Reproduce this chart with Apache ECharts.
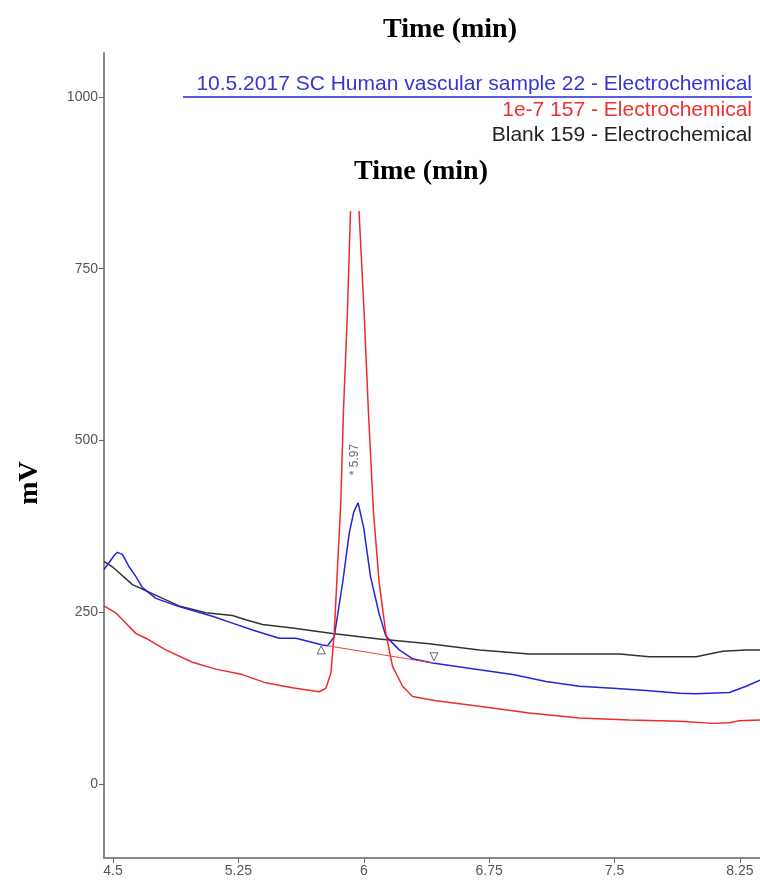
<!DOCTYPE html>
<html lang="en">
<head>
    <meta charset="UTF-8">
    <title>Electrochemical chromatogram</title>
    <style>
        html, body { margin: 0; padding: 0; background: #fff; }
    </style>
</head>
<body>
<div id="main" style="width:760px;height:882px;"></div>
<script src="https://cdn.jsdelivr.net/npm/echarts@6/dist/echarts.min.js"></script>
<script>
    // trace names (legend)
    var seriesNames = [
        '10.5.2017 SC Human vascular sample 22 - Electrochemical',
        '1e-7 157 - Electrochemical',
        'Blank 159 - Electrochemical'
    ];
    var xTicks = [4.5, 5.25, 6, 6.75, 7.5, 8.25];
    var yTicks = [0, 250, 500, 750, 1000];

    // [time (min), mV]
    var sampleTrace = [
        [4.446, 312], [4.506, 332], [4.526, 337], [4.556, 334], [4.596, 316], [4.636, 302],
        [4.675, 286], [4.756, 270], [4.895, 258], [5.094, 244], [5.214, 234], [5.334, 224],
        [5.494, 212], [5.594, 212], [5.753, 202], [5.783, 201], [5.823, 214], [5.873, 292],
        [5.913, 365], [5.940, 396], [5.966, 409], [6.000, 372], [6.040, 302], [6.090, 249],
        [6.132, 215], [6.212, 195], [6.292, 182], [6.412, 176], [6.691, 166], [6.891, 159],
        [7.090, 149], [7.290, 142], [7.490, 139], [7.688, 136], [7.888, 132], [7.988, 131],
        [8.187, 133], [8.287, 142], [8.370, 151]
    ];
    var standardTrace = [
        [4.446, 259], [4.516, 249], [4.576, 234], [4.636, 219], [4.696, 212], [4.815, 195],
        [4.975, 177], [5.115, 167], [5.274, 159], [5.414, 147], [5.573, 140], [5.733, 134],
        [5.773, 139], [5.803, 161], [5.823, 219], [5.843, 316], [5.863, 413], [5.878, 540],
        [5.902, 686], [5.920, 831], [5.946, 915], [5.972, 831], [6.002, 686], [6.028, 540],
        [6.058, 395], [6.092, 293], [6.132, 219], [6.172, 171], [6.232, 142], [6.292, 127],
        [6.432, 121], [6.691, 113], [6.990, 103], [7.290, 96], [7.589, 93], [7.888, 91],
        [8.087, 88], [8.187, 89], [8.247, 92], [8.370, 93]
    ];
    var blankTrace = [
        [4.446, 324], [4.496, 316], [4.616, 290], [4.715, 279], [4.895, 259], [5.055, 249],
        [5.214, 245], [5.294, 239], [5.394, 232], [5.573, 227], [5.813, 219], [6.092, 211],
        [6.391, 204], [6.691, 195], [6.990, 189], [7.290, 189], [7.529, 189], [7.708, 185],
        [7.988, 185], [8.147, 193], [8.287, 195], [8.370, 195]
    ];
    // integration baseline and peak start / end marks
    var peakBaseline = [[5.783, 201], [6.412, 176]];
    var peakStart = [5.745, 195];
    var peakEnd = [6.420, 185];
    var peakLabel = [5.943, 472];
    var peakText = '* 5.97';

    var myChart = echarts.init(document.getElementById('main'));

    function legendFor(i, top, color) {
        return {
            data: [{name: seriesNames[i], textStyle: {color: color}}],
            right: 8,
            top: top,
            padding: 0,
            icon: 'none',
            itemWidth: 0,
            itemHeight: 0,
            selectedMode: false,
            textStyle: {fontFamily: 'Liberation Sans', fontSize: 21, color: color}
        };
    }

    var titleFont = 'bold 28px "Liberation Serif"';

    var option = {
        backgroundColor: '#fff',
        animation: false,
        legend: [
            legendFor(0, 74, '#3535d6'),
            legendFor(1, 100, '#ee3030'),
            legendFor(2, 125, '#222')
        ],
        grid: {
            left: 104,
            right: 0,
            top: 53,
            bottom: 24,
            outerBoundsMode: 'none'
        },
        xAxis: {
            type: 'value',
            min: 4.446,
            max: 8.37,
            axisLine: {show: true, onZero: false, lineStyle: {color: '#888', width: 2}},
            axisTick: {show: true, length: 5, customValues: xTicks, lineStyle: {color: '#666'}},
            axisLabel: {
                customValues: xTicks,
                margin: 6,
                color: '#555',
                fontSize: 14,
                fontFamily: 'Liberation Sans',
                formatter: function (v) { return String(v); }
            },
            splitLine: {show: false}
        },
        yAxis: {
            type: 'value',
            min: -108,
            max: 1064,
            axisLine: {show: true, onZero: false, lineStyle: {color: '#888', width: 2}},
            axisTick: {show: true, length: 5, customValues: yTicks, lineStyle: {color: '#666'}},
            axisLabel: {
                customValues: yTicks,
                margin: 6,
                color: '#555',
                fontSize: 14,
                fontFamily: 'Liberation Sans',
                formatter: function (v) { return String(v); }
            },
            splitLine: {show: false}
        },
        graphic: [
            // white box of the overlaid axis title hides the top of the peak
            {type: 'rect', shape: {x: 300, y: 146, width: 260, height: 65}, style: {fill: '#fff'}, z: 100},
            {type: 'line', shape: {x1: 183, y1: 97, x2: 752, y2: 97}, style: {stroke: '#5b5be8', lineWidth: 2}, z: 100},
            {type: 'text', x: 450, y: 30, z: 110,
                style: {text: 'Time (min)', font: titleFont, fill: '#000', align: 'center', verticalAlign: 'middle'}},
            {type: 'text', x: 421, y: 172, z: 110,
                style: {text: 'Time (min)', font: titleFont, fill: '#000', align: 'center', verticalAlign: 'middle'}},
            {type: 'text', x: 30, y: 483, rotation: Math.PI / 2, z: 110,
                style: {text: 'mV', font: titleFont, fill: '#000', align: 'center', verticalAlign: 'middle'}}
        ],
        series: [
            {
                name: seriesNames[2],
                type: 'line',
                data: blankTrace,
                showSymbol: false,
                lineStyle: {color: '#333', width: 1.5},
                itemStyle: {color: '#333'}
            },
            {
                name: seriesNames[0],
                type: 'line',
                data: sampleTrace,
                showSymbol: false,
                lineStyle: {color: '#2424dc', width: 1.5},
                itemStyle: {color: '#2424dc'}
            },
            {
                name: seriesNames[1],
                type: 'line',
                data: standardTrace,
                showSymbol: false,
                lineStyle: {color: '#ee2a2a', width: 1.5},
                itemStyle: {color: '#ee2a2a'}
            },
            {
                name: 'baseline',
                type: 'line',
                data: peakBaseline,
                showSymbol: false,
                lineStyle: {color: '#ee4040', width: 1}
            },
            {
                name: 'marks',
                type: 'scatter',
                symbol: 'triangle',
                symbolSize: 8,
                data: [
                    {value: peakStart},
                    {value: peakEnd, symbolRotate: 180}
                ],
                itemStyle: {color: '#fff', borderColor: '#444', borderWidth: 1},
                z: 5
            },
            {
                name: 'peak label',
                type: 'scatter',
                symbolSize: 1,
                data: [peakLabel],
                itemStyle: {color: 'rgba(0,0,0,0)'},
                label: {
                    show: true,
                    position: 'inside',
                    rotate: 90,
                    formatter: peakText,
                    color: '#444',
                    fontSize: 12,
                    fontFamily: 'Liberation Sans'
                }
            }
        ]
    };

    myChart.setOption(option);
</script>
</body>
</html>
